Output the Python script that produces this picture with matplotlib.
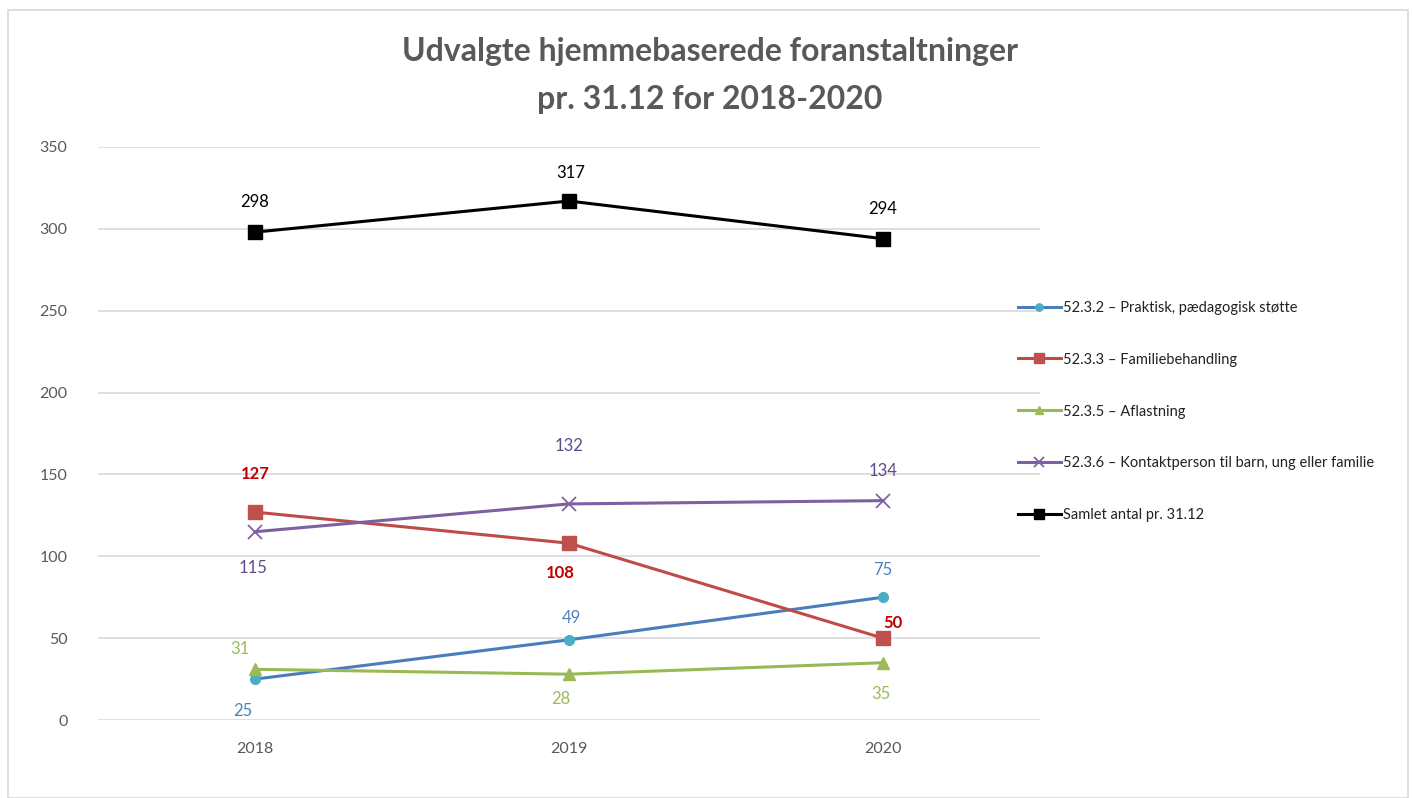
import matplotlib
matplotlib.use("Agg")
import matplotlib.pyplot as plt
from matplotlib.patches import Rectangle

plt.rcParams['font.family'] = ['Lato', 'DejaVu Sans']

years = ["2018", "2019", "2020"]
praktisk = [25, 49, 75]
familie = [127, 108, 50]
aflastning = [31, 28, 35]
kontakt = [115, 132, 134]
samlet = [298, 317, 294]

names = ["52.3.2 – Praktisk, pædagogisk støtte",
         "52.3.3 – Familiebehandling",
         "52.3.5 – Aflastning",
         "52.3.6 – Kontaktperson til barn, ung eller familie",
         "Samlet antal pr. 31.12"]

fig = plt.figure(figsize=(14.14, 7.98), dpi=100)
fig.patches.append(Rectangle((0.006, 0.0), 0.99, 0.987, transform=fig.transFigure,
                             fill=False, edgecolor="#d9d9d9", lw=1.2))
ax = fig.add_axes([0.0693, 0.0977, 0.6662, 0.7181])

x = range(len(years))
ax.plot(x, praktisk, color="#4a7ebb", lw=2.2, marker="o", ms=7,
        mfc="#4bacc6", mec="#4bacc6", label=names[0])
ax.plot(x, familie, color="#be4b48", lw=2.2, marker="s", ms=10,
        mfc="#c0504d", mec="#c0504d", label=names[1])
ax.plot(x, aflastning, color="#98b954", lw=2.2, marker="^", ms=8,
        mfc="#9bbb59", mec="#9bbb59", label=names[2])
ax.plot(x, kontakt, color="#7d60a0", lw=2.2, marker="x", ms=10, mew=1.3,
        mec="#8064a2", label=names[3])
ax.plot(x, samlet, color="black", lw=2.2, marker="s", ms=10, label=names[4])

# data labels: offsets in pixels
def lab(vals, color, offs, bold=False):
    for i, v in enumerate(vals):
        dx, dy = offs[i]
        ax.annotate(str(v), (i, v), xytext=(dx, dy), textcoords="offset pixels",
                    ha="center", va="center", fontsize=12, color=color,
                    fontweight="bold" if bold else "normal")

lab(samlet, "black", [(0, 30), (2, 28), (0, 30)])
lab(familie, "#c00000", [(0, 38), (-9, -30), (10, 15)], bold=True)
lab(kontakt, "#5f4b8b", [(-2, -36), (0, 58), (0, 30)])
lab(praktisk, "#4f81bd", [(-12, -32), (2, 22), (0, 27)])
lab(aflastning, "#9bbb59", [(-15, 20), (-8, -25), (-2, -31)])

ax.set_ylim(0, 350)
ax.set_xlim(-0.5, 2.5)
ax.set_yticks(range(0, 351, 50))
ax.set_xticks(list(x))
ax.set_xticklabels(years)
ax.grid(axis="y", color="#d9d9d9", lw=1.2)
ax.set_axisbelow(True)
for s in ax.spines.values():
    s.set_visible(False)
ax.tick_params(length=0, labelsize=11.5, labelcolor="#595959", pad=22)
ax.tick_params(axis="x", pad=16)

fig.text(0.502, 0.935, "Udvalgte hjemmebaserede foranstaltninger",
         ha="center", va="center", fontsize=23, fontweight="bold", color="#595959")
fig.text(0.502, 0.875, "pr. 31.12 for 2018-2020",
         ha="center", va="center", fontsize=23, fontweight="bold", color="#595959")

ax.legend(loc="upper left", bbox_to_anchor=(0.97, 0.742), frameon=False,
          fontsize=10.5, labelspacing=2.6, handlelength=3.0, handletextpad=0.1,
          borderaxespad=0, labelcolor="#222222", markerscale=0.75)

fig.savefig("out.png", dpi=100)
